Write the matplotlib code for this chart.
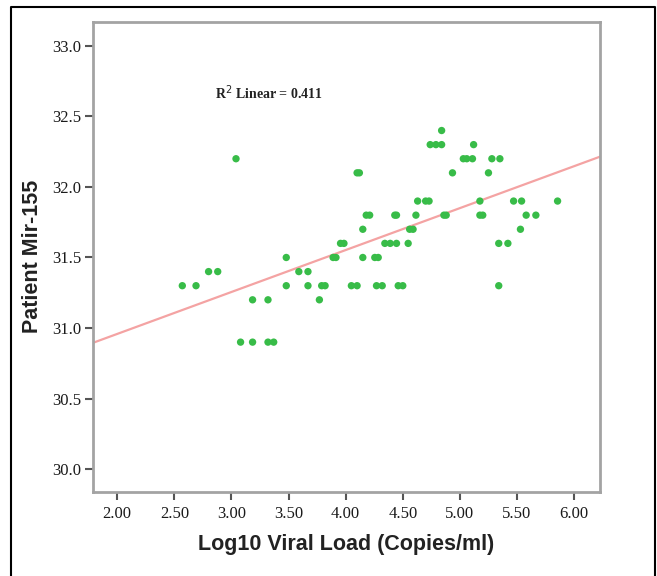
import numpy as np
import matplotlib
matplotlib.use("Agg")
import matplotlib.pyplot as plt
from matplotlib.lines import Line2D

# Data
viral_load = [2.57, 2.69, 2.80, 2.88, 3.04, 3.08, 3.185, 3.185, 3.32, 3.32, 3.37,
              3.48, 3.48, 3.59, 3.67, 3.67, 3.77, 3.79, 3.82, 3.89, 3.915, 3.955,
              3.985, 4.05, 4.10, 4.10, 4.12, 4.15, 4.15, 4.18, 4.21, 4.255, 4.285,
              4.27, 4.32, 4.343, 4.39, 4.43, 4.445, 4.445, 4.46, 4.50, 4.547, 4.56,
              4.59, 4.615, 4.63, 4.70, 4.73, 4.74, 4.79, 4.84, 4.84, 4.86, 4.88,
              4.935, 5.03, 5.06, 5.11, 5.12, 5.175, 5.175, 5.20, 5.25, 5.28, 5.35,
              5.34, 5.42, 5.34, 5.47, 5.54, 5.53, 5.58, 5.665, 5.855]
mir155 = [31.3, 31.3, 31.4, 31.4, 32.2, 30.9, 30.9, 31.2, 31.2, 30.9, 30.9,
          31.5, 31.3, 31.4, 31.4, 31.3, 31.2, 31.3, 31.3, 31.5, 31.5, 31.6,
          31.6, 31.3, 31.3, 32.1, 32.1, 31.7, 31.5, 31.8, 31.8, 31.5, 31.5,
          31.3, 31.3, 31.6, 31.6, 31.8, 31.8, 31.6, 31.3, 31.3, 31.6, 31.7,
          31.7, 31.8, 31.9, 31.9, 31.9, 32.3, 32.3, 32.3, 32.4, 31.8, 31.8,
          32.1, 32.2, 32.2, 32.2, 32.3, 31.9, 31.8, 31.8, 32.1, 32.2, 32.2,
          31.6, 31.6, 31.3, 31.9, 31.9, 31.7, 31.8, 31.8, 31.9]
x_ticks = [2.0, 2.5, 3.0, 3.5, 4.0, 4.5, 5.0, 5.5, 6.0]
y_ticks = [30.0, 30.5, 31.0, 31.5, 32.0, 32.5, 33.0]
r2_label = "R$^2$ Linear = 0.411"

x = np.array(viral_load)
y = np.array(mir155)

W, H = 657.0, 576.0
fig = plt.figure(figsize=(W / 100, H / 100), dpi=100)
ax = fig.add_axes([0.141, 0.1464, 0.772, 0.8156])

ax.scatter(x, y, s=28, color="#38bc48", edgecolors="none", zorder=3)

xlim = (1.785, 6.225)
ax.set_xlim(*xlim)
ax.set_ylim(29.84, 33.17)

slope, intercept = np.polyfit(x, y, 1)
xl = np.array(xlim)
ax.plot(xl, slope * xl + intercept, color="#f4a3a3", lw=1.6, zorder=2)

ax.set_xticks(x_ticks)
ax.set_xticklabels([f"{v:.2f}" for v in x_ticks])
ax.set_yticks(y_ticks)
ax.set_yticklabels([f"{v:.1f}" for v in y_ticks])

for lab in ax.get_xticklabels() + ax.get_yticklabels():
    lab.set_family("Liberation Serif")
    lab.set_fontsize(12)
    lab.set_color("#1a1a1a")

for sp in ax.spines.values():
    sp.set_color("#a3a3a3")
    sp.set_linewidth(2.0)
ax.tick_params(axis="x", direction="out", length=6, width=1.5, color="#555555", pad=4)
ax.tick_params(axis="y", direction="out", length=6, width=1.5, color="#555555", pad=2)

ax.set_xlabel("Log10 Viral Load (Copies/ml)", family="Liberation Sans",
              fontweight="bold", fontsize=15.5, color="#222222", labelpad=9)
ax.set_ylabel("Patient Mir-155", family="Liberation Sans",
              fontweight="bold", fontsize=15.5, color="#222222", labelpad=7)

fig.text(215 / W, 1 - 93 / H, r2_label, fontsize=10, family="Liberation Serif",
         fontweight="bold", color="#222222", va="center", ha="left")

# outer frame
fig.add_artist(Line2D([11 / W, 11 / W, 655 / W, 655 / W], [0, 1 - 7 / H, 1 - 7 / H, 0],
                      transform=fig.transFigure, color="black", lw=1.5))

fig.savefig("out.png", dpi=100)
